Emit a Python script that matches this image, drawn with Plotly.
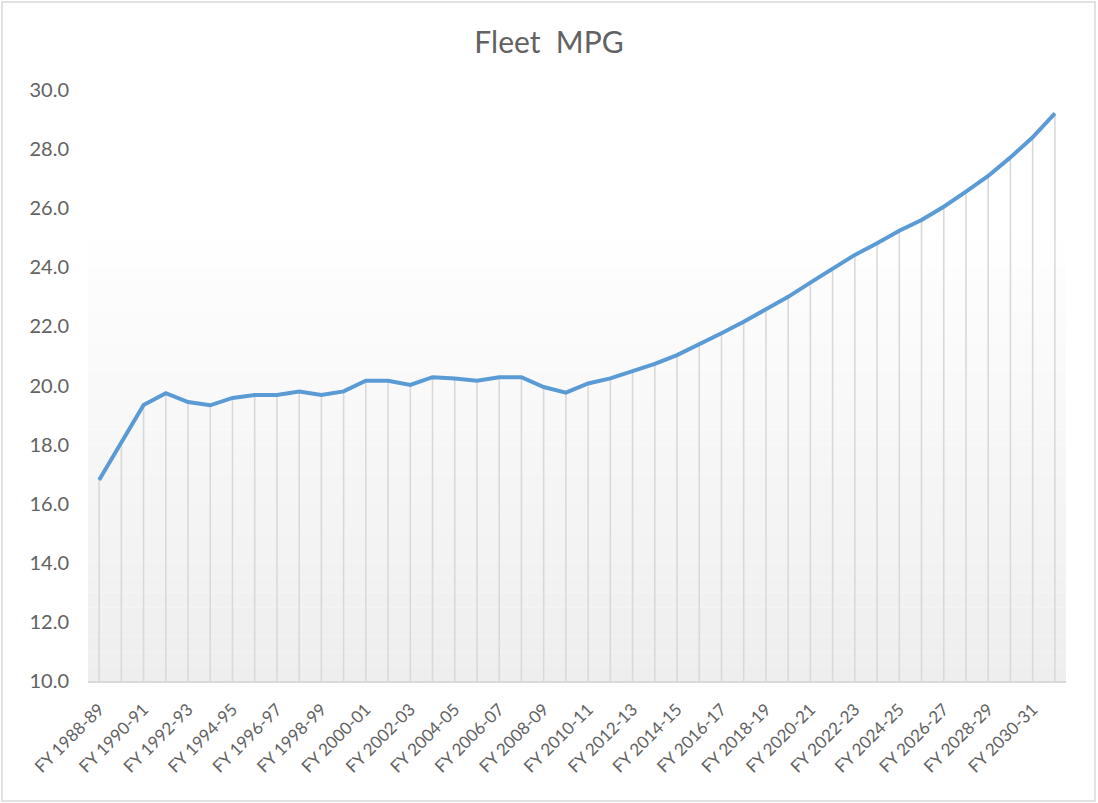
import plotly.graph_objects as go

categories = [f"FY {y}-{str(y + 1)[-2:]}" for y in range(1988, 2032)]
mpg = [16.8, 18.05, 19.34, 19.74, 19.44, 19.33, 19.58, 19.68, 19.68, 19.80,
       19.68, 19.80, 20.16, 20.16, 20.02, 20.28, 20.24, 20.16, 20.28, 20.28,
       19.95, 19.76, 20.07, 20.24, 20.47, 20.73, 21.03, 21.39, 21.77, 22.16,
       22.58, 23.00, 23.48, 23.96, 24.42, 24.81, 25.24, 25.60, 26.05, 26.56,
       27.09, 27.72, 28.40, 29.21]
tick_labels = categories[::2]
y_min, y_max = 10, 30

font_family = "Lato, Carlito, Open Sans, sans-serif"
text_color = "#626262"

fig = go.Figure()

fig.add_trace(go.Scatter(
    x=categories, y=mpg, mode="lines",
    line=dict(color="#5b9bd5", width=4),
    error_y=dict(type="data", symmetric=False,
                 array=[0] * len(mpg),
                 arrayminus=[v - y_min for v in mpg],
                 color="#d9d9d9", thickness=1.6, width=0),
    hoverinfo="x+y", showlegend=False,
))

# plot-area background gradient (white at top -> light gray at bottom)
shapes = []
n_bands = 40
top_white = 0.78
for i in range(n_bands):
    y0 = i / n_bands
    y1 = (i + 1) / n_bands
    mid = (y0 + y1) / 2
    t = min(mid / top_white, 1.0)
    g = int(round(238 + (255 - 238) * t))
    shapes.append(dict(type="rect", xref="x domain", yref="y domain",
                       x0=0, x1=1, y0=y0, y1=y1, line=dict(width=0),
                       fillcolor=f"rgb({g},{g},{g})", layer="below"))

W, H = 1098, 803
L, R, T, B = 88, 32, 90, 122
pw, ph = W - L - R, H - T - B
# outer chart border
shapes.append(dict(type="rect", xref="paper", yref="paper",
                   x0=(2 - L) / pw, x1=(W - 3 - L) / pw,
                   y0=-(H - 2 - T - ph) / ph, y1=1 + (T - 2) / ph,
                   line=dict(color="#d9d9d9", width=1.5), fillcolor="rgba(0,0,0,0)",
                   layer="below"))

fig.update_layout(
    width=W, height=H,
    margin=dict(l=L, r=R, t=T, b=B),
    paper_bgcolor="white", plot_bgcolor="white",
    title=dict(text="Fleet  MPG", x=0.5, xanchor="center", y=1 - 42 / H, yanchor="middle",
               font=dict(family=font_family, size=30, color=text_color)),
    font=dict(family=font_family, color=text_color),
    shapes=shapes,
    xaxis=dict(type="category", tickmode="array", tickvals=tick_labels, ticktext=tick_labels,
               tickangle=-45, showgrid=False, showline=True, linecolor="#d9d9d9", linewidth=1.5,
               ticks="", tickfont=dict(size=17, color=text_color), zeroline=False,
               ticklabelstandoff=10,
               range=[-0.5, len(categories) - 0.5]),
    yaxis=dict(range=[y_min, y_max], dtick=2, tickformat=".1f", showgrid=False,
               showline=False, zeroline=False, ticks="", ticklen=0,
               ticklabelstandoff=18,
               tickfont=dict(size=20, color=text_color)),
)

fig.write_html("out.html", post_script="document.body.style.margin='0';",
               config={"displayModeBar": False})
